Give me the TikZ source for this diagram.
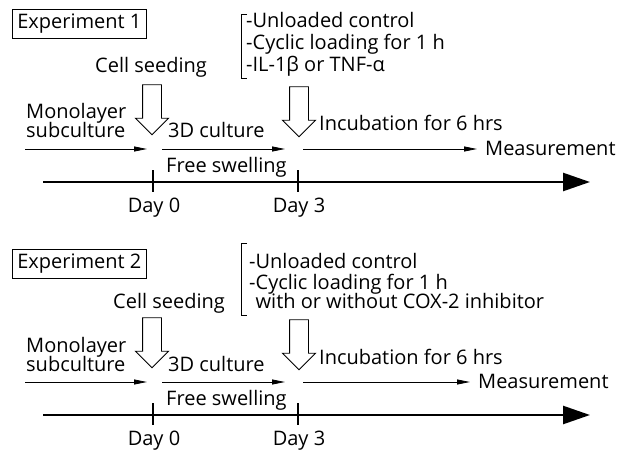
\documentclass[tikz,border=0pt]{standalone}
\usepackage{fontspec}
\setmainfont{Open Sans}
\usetikzlibrary{arrows.meta,shapes.arrows}

\begin{document}
\begin{tikzpicture}[
		x=1pt,y=-1pt,
		every node/.style={font=\fontsize{20}{17}\selectfont},
		lbl/.style={anchor=base west,inner sep=0pt},
		daylbl/.style={anchor=base,inner sep=0pt},
		expbox/.style={draw,line width=0.7pt,anchor=north west,inner xsep=5pt,minimum height=29pt},
		openarr/.style={single arrow,draw,line width=0.9pt,rotate=-90,inner xsep=0pt,inner ysep=9pt,
				minimum height=50pt,single arrow head extend=7pt},
		thin/.style={line width=0.8pt,-{Triangle[length=13pt,width=5pt]}},
		timeaxis/.style={line width=2.5pt,-{Triangle[length=27pt,width=18pt]}},
		daytick/.style={line width=1.2pt}
	]
	\useasboundingbox (0,0) rectangle (622,452);

	% experiment headers
	\node[expbox] (exp1) at (12,9) {Experiment 1};
	\node[expbox] (exp2) at (12,249) {Experiment 2};

	% treatments of experiment 1
	\draw[line width=0.8pt] (247,14) -- (241,14) -- (241,78) -- (247,78);
	\node[lbl] (ctrl1) at (246,28) {-Unloaded control};
	\node[lbl] (load1) at (246,50) {-Cyclic loading for 1 h};
	\node[lbl] (cyto1) at (246,72) {-IL-1β or TNF-α};
	\node[lbl] (seed1) at (95,73) {Cell seeding};

	% treatments of experiment 2
	\draw[line width=0.8pt] (247,243) -- (241,243) -- (241,315) -- (247,315);
	\node[lbl] (ctrl2) at (249,268) {-Unloaded control};
	\node[lbl] (load2) at (249,289) {-Cyclic loading for 1 h};
	\node[lbl] (inhib2) at (249,308) {\phantom{-}with or without COX-2 inhibitor};
	\node[lbl] (seed2) at (113,308) {Cell seeding};

	% the two time lines
	\foreach \n/\dy/\ex in {1/0/477,2/233/470} {
			\begin{scope}[shift={(0,\dy)}]
				\node[openarr] (seedarr\n) at (152,105) {};
				\node[openarr] (loadarr\n) at (299,107) {};
				\node[lbl,align=left] (mono\n) at (26,138) {Monolayer\\[-2pt]subculture};
				\node[lbl] (cult\n) at (168,138) {3D culture};
				\node[lbl] (incu\n) at (319,131) {Incubation for 6 hrs};
				\node[lbl] (meas\n) at ({\ex+8},155) {Measurement};
				\node[lbl] (free\n) at (166,172) {Free swelling};
				\node[daylbl] (day0\n) at (154,212) {Day 0};
				\node[daylbl] (day3\n) at (299,212) {Day 3};

				\coordinate (s\n) at (25,149);
				\coordinate (c0\n) at (147,149);
				\coordinate (c1\n) at (162,149);
				\coordinate (c2\n) at (285,149);
				\coordinate (c3\n) at (303,149);
				\coordinate (e\n) at (\ex,149);
				\draw[thin] (s\n) -- (c0\n);
				\draw[thin] (c1\n) -- (c2\n);
				\draw[thin] (c3\n) -- (e\n);

				\coordinate (t0\n) at (43,182);
				\coordinate (t1\n) at (590,182);
				\draw[timeaxis] (t0\n) -- (t1\n);
				\draw[daytick] (153,170) -- (153,192);
				\draw[daytick] (298,170) -- (298,192);
			\end{scope}
		}
\end{tikzpicture}
\end{document}
